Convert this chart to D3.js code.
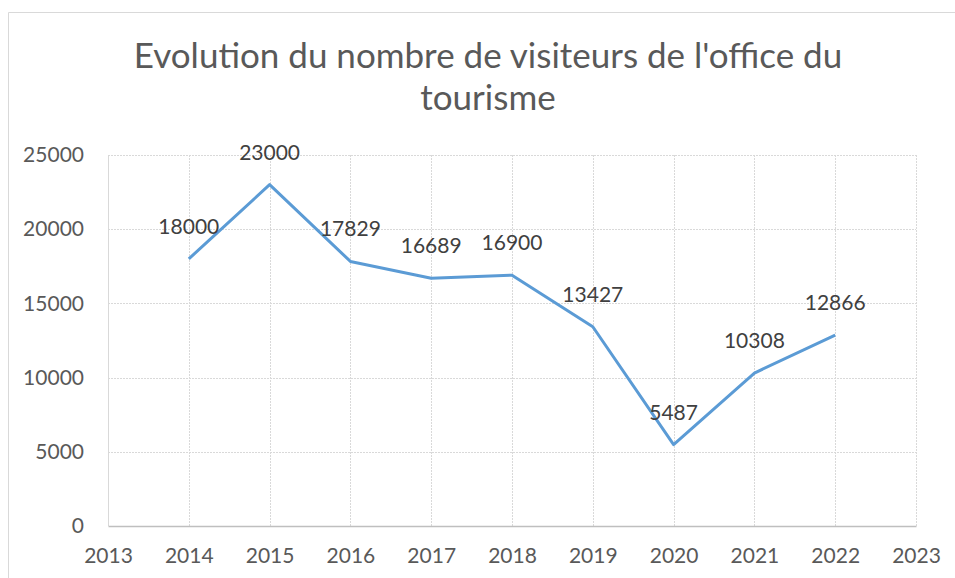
<!DOCTYPE html>
<html>
<head>
<meta charset="utf-8">
<script src="https://cdn.jsdelivr.net/npm/d3@7"></script>
<style>
  body { margin: 0; background: #fff; }
  text { font-family: Lato, "Open Sans", sans-serif; }
</style>
</head>
<body>
<div id="chart"></div>
<script>
// Chart size
const WIDTH = 955;
const HEIGHT = 578;

// Data
const years = [2014, 2015, 2016, 2017, 2018, 2019, 2020, 2021, 2022];
const visitors = [18000, 23000, 17829, 16689, 16900, 13427, 5487, 10308, 12866];
const yTicks = [0, 5000, 10000, 15000, 20000, 25000];
const xTicks = [2013, 2014, 2015, 2016, 2017, 2018, 2019, 2020, 2021, 2022, 2023];
const titleLines = ["Evolution du nombre de visiteurs de l'office du", "tourisme"];

const plot = { left: 108, right: 916, top: 155, bottom: 526 };
const FONT = "Lato, 'Open Sans', sans-serif";

const svg = d3.select("#chart")
  .append("svg")
  .attr("width", WIDTH)
  .attr("height", HEIGHT);

// Outer chart frame (cut by the window on right and bottom)
svg.append("path")
  .attr("d", `M8.5,${HEIGHT} V12.5 H${WIDTH}`)
  .attr("fill", "none")
  .attr("stroke", "#d9d9d9")
  .attr("stroke-width", 1);

// Title
svg.append("text")
  .attr("x", 488)
  .attr("y", 68)
  .attr("text-anchor", "middle")
  .attr("font-size", "35px")
  .attr("fill", "#595959")
  .selectAll("tspan")
  .data(titleLines)
  .join("tspan")
  .attr("x", 488)
  .attr("dy", (d, i) => i === 0 ? 0 : 42)
  .text(d => d);

// Scales
const x = d3.scaleLinear().domain([2013, 2023]).range([plot.left, plot.right]);
const y = d3.scaleLinear().domain([0, 25000]).range([plot.bottom, plot.top]);

// Gridlines
svg.append("g")
  .selectAll("line")
  .data(yTicks.filter(d => d > 0))
  .join("line")
  .attr("x1", plot.left)
  .attr("x2", plot.right)
  .attr("y1", d => Math.round(y(d)) + 0.5)
  .attr("y2", d => Math.round(y(d)) + 0.5)
  .attr("stroke", "#d9d9d9")
  .attr("stroke-dasharray", "2,1");

svg.append("g")
  .selectAll("line")
  .data(xTicks)
  .join("line")
  .attr("x1", d => Math.round(x(d)) + 0.5)
  .attr("x2", d => Math.round(x(d)) + 0.5)
  .attr("y1", plot.top)
  .attr("y2", plot.bottom)
  .attr("stroke", "#d9d9d9")
  .attr("stroke-dasharray", (d, i) => (i === 0) ? null : "2,1");

// X axis
const xAxis = d3.axisBottom(x)
  .tickValues(xTicks)
  .tickFormat(d3.format("d"))
  .tickSize(0)
  .tickPadding(22);

const gx = svg.append("g")
  .attr("transform", `translate(0,${plot.bottom})`)
  .call(xAxis);
gx.select(".domain").attr("stroke", "#bfbfbf").attr("stroke-width", 1.5);
gx.selectAll("text").attr("font-size", "21px").attr("fill", "#595959")
  .style("font-family", FONT);

// Y axis
const yAxis = d3.axisLeft(y)
  .tickValues(yTicks)
  .tickFormat(d3.format("d"))
  .tickSize(0)
  .tickPadding(24);

const gy = svg.append("g")
  .attr("transform", `translate(${plot.left},0)`)
  .call(yAxis);
gy.select(".domain").remove();
gy.selectAll("text").attr("font-size", "21px").attr("fill", "#595959")
  .style("font-family", FONT);

// Line
const line = d3.line()
  .x((d, i) => x(years[i]))
  .y(d => y(d));

svg.append("path")
  .datum(visitors)
  .attr("d", line)
  .attr("fill", "none")
  .attr("stroke", "#5b9bd5")
  .attr("stroke-width", 3)
  .attr("stroke-linejoin", "round");

// Data labels
svg.append("g")
  .selectAll("text")
  .data(visitors)
  .join("text")
  .attr("x", (d, i) => x(years[i]))
  .attr("y", d => y(d) - 25)
  .attr("text-anchor", "middle")
  .attr("font-size", "21px")
  .attr("fill", "#404040")
  .text(d => d);
</script>
</body>
</html>
